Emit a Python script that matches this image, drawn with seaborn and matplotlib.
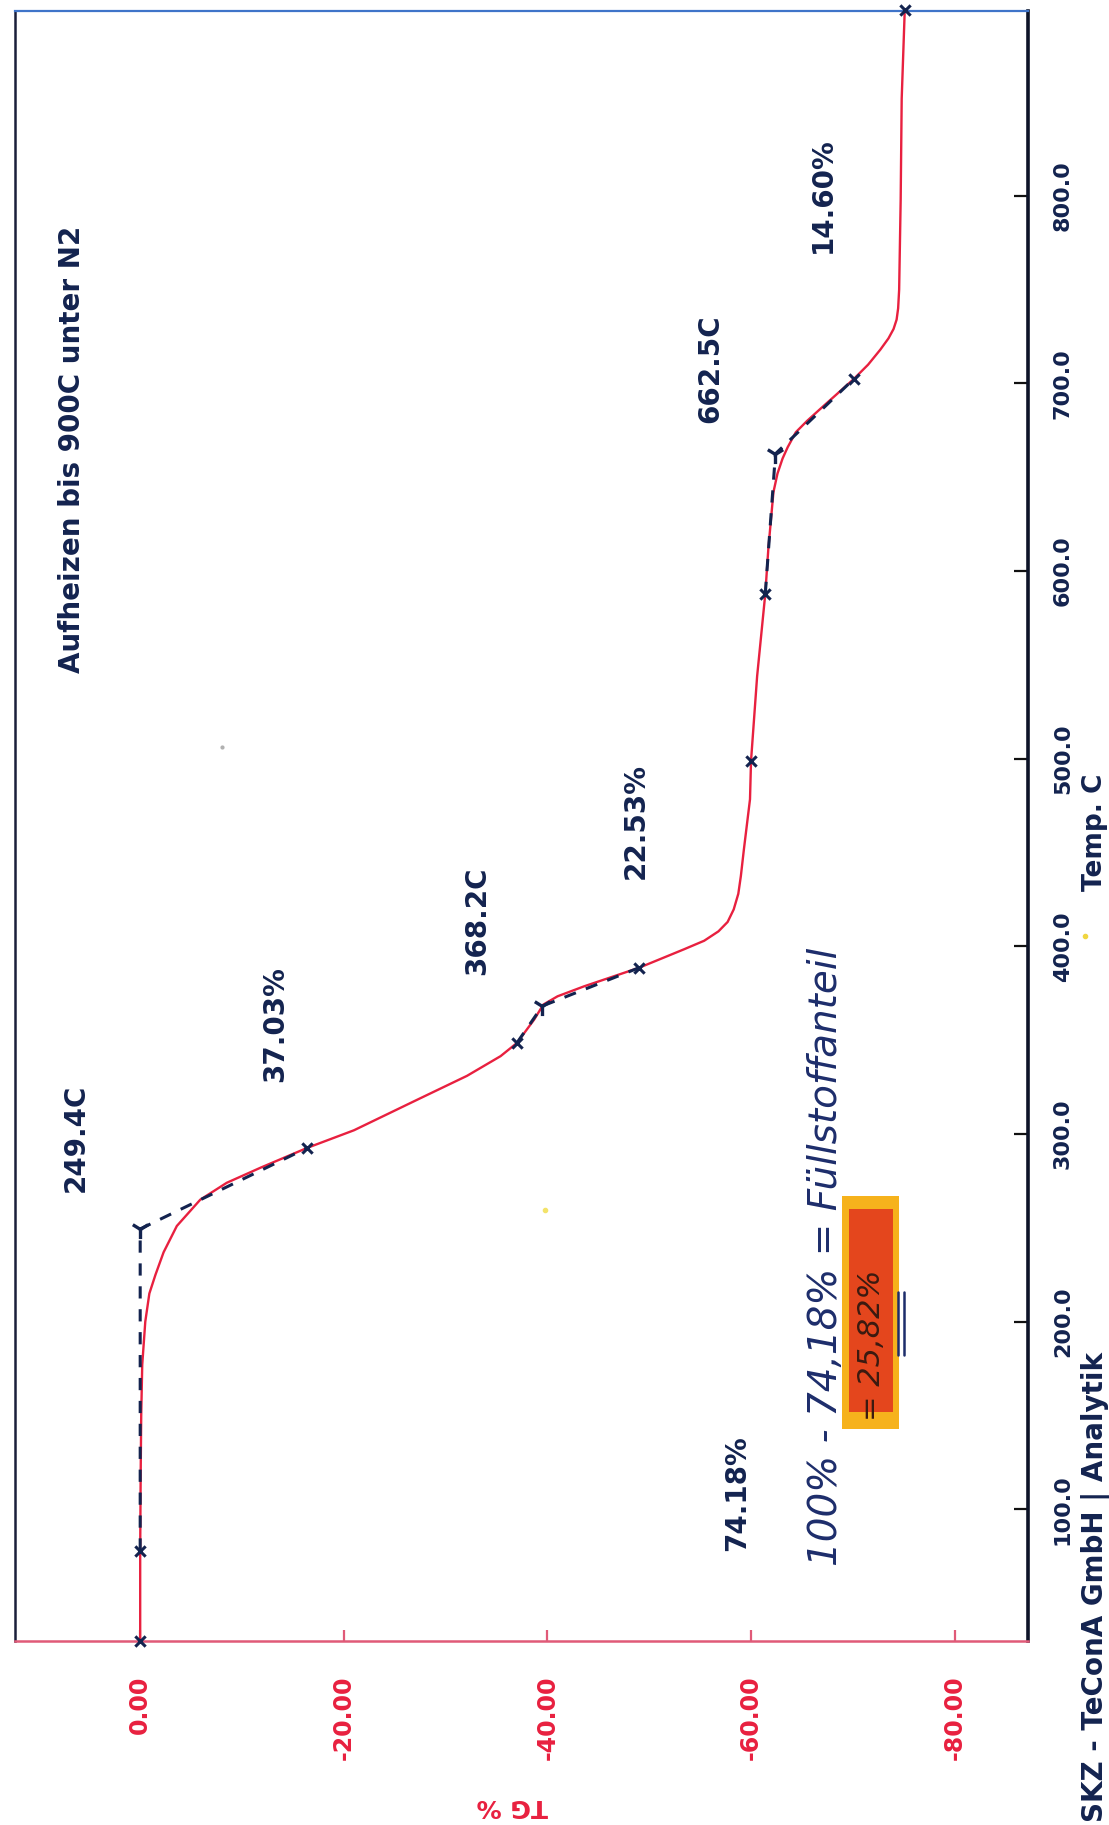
import matplotlib
matplotlib.use('Agg')
import matplotlib.pyplot as plt
import seaborn as sns
from matplotlib.patches import Rectangle
from matplotlib.lines import Line2D

# --- Data (temperature in C, mass change in %) ---
temp_c = [30, 78, 120, 150, 177, 200, 215, 225, 237, 251, 265, 274, 282, 292.6,
          302, 318.5, 331, 341.5, 348.5, 361, 369, 373.4, 378.7, 388.6, 398.4,
          403, 408, 413, 419.7, 428, 437.4, 451.7, 478.4, 498.8, 544, 587.8,
          611.8, 642, 652, 660, 666, 674, 680, 686.4, 702.4, 710, 718, 724, 729,
          734, 740, 750, 798, 851.7, 899]
tg_pct = [0, 0, -0.05, -0.1, -0.2, -0.5, -0.9, -1.5, -2.3, -3.6, -5.9, -8.5,
          -11.8, -16.4, -21.0, -27.3, -32.1, -35.4, -37.0, -38.7, -39.6, -41.0,
          -43.6, -49.0, -53.4, -55.4, -56.8, -57.7, -58.3, -58.75, -59.0, -59.3,
          -59.9, -60.0, -60.6, -61.4, -61.7, -62.2, -62.6, -63.1, -63.6, -64.4,
          -65.5, -66.8, -70.1, -71.5, -72.7, -73.5, -74.0, -74.3, -74.45, -74.55,
          -74.7, -74.8, -75.1]

# tangent constructions: start mark, onset, end mark
tan_temp = [[78, 249.4, 292.6], [348.5, 368.2, 388.6], [587.8, 662.5, 702.4]]
tan_tg = [[0.0, 0.0, -16.4], [-37.0, -39.5, -49.0], [-61.4, -62.4, -70.1]]

onset_temp = [249.4, 368.2, 662.5]
onset_tg = [0.0, -39.5, -62.4]

mark_temp = [30, 78, 292.6, 348.5, 388.6, 498.8, 587.8, 702.4, 899]
mark_tg = [0.0, 0.0, -16.4, -37.0, -49.0, -60.0, -61.4, -70.1, -75.1]

tg_ticks = [0, -20, -40, -60, -80]
tg_tick_labels = ['0.00', '-20.00', '-40.00', '-60.00', '-80.00']
temp_ticks = [100, 200, 300, 400, 500, 600, 700, 800]
temp_tick_labels = ['100.0', '200.0', '300.0', '400.0', '500.0', '600.0', '700.0', '800.0']

# printed step annotations (text, TG position, temperature position)
step_text = ['249.4C', '37.03%', '368.2C', '22.53%', '662.5C', '14.60%', '74.18%']
step_tg = [6.3, -13.3, -33.1, -48.7, -56.0, -67.1, -58.6]
step_temp = [298, 358.6, 413.4, 467, 708, 800.3, 108.7]

# --- Style ---
sns.set_style('white')
plt.rcParams['font.family'] = ['DejaVu Sans']
plt.rcParams['font.weight'] = 'bold'

navy = '#13234f'
red = '#e8203f'
axis_red = '#e05a78'
ink = '#1d2d6b'

fig = plt.figure(figsize=(11.09, 18.25), dpi=100)
ax = fig.add_axes([0.0135, 0.1008, 0.9134, 0.8932])

# main TG curve
sns.lineplot(x=tg_pct, y=temp_c, sort=False, estimator=None, color=red,
             linewidth=1.7, ax=ax, zorder=3)

# tangent lines
for tx, ty in zip(tan_tg, tan_temp):
    sns.lineplot(x=tx, y=ty, sort=False, estimator=None, color=navy,
                 linewidth=2.2, linestyle=(0, (4, 3.5)), ax=ax, zorder=4)

sns.scatterplot(x=mark_tg, y=mark_temp, marker='x', s=55, color=navy,
                linewidth=2.2, ax=ax, zorder=5, clip_on=False)
sns.scatterplot(x=onset_tg, y=onset_temp, marker='1', s=190, color=navy,
                linewidth=2.4, ax=ax, zorder=5)

ax.set_xlim(12.3, -87.2)
ax.set_ylim(29.8, 898.5)

ax.set_xticks(tg_ticks)
ax.set_xticklabels(tg_tick_labels)
ax.set_yticks(temp_ticks)
ax.set_yticklabels(temp_tick_labels)

ax.xaxis.set_ticks_position('bottom')
ax.yaxis.set_ticks_position('right')
ax.tick_params(axis='x', direction='in', length=8, width=1.6, color=axis_red,
               pad=25, labelcolor=red, labelsize=17, labelrotation=90)
ax.tick_params(axis='y', direction='in', length=10, width=1.6, color='#111',
               pad=18, labelcolor=navy, labelsize=16, labelrotation=90,
               left=False, labelleft=False, right=True, labelright=True)
for lbl in ax.get_yticklabels():
    lbl.set_va('center')

ax.spines['top'].set_color('#3f74c9')
ax.spines['top'].set_linewidth(1.6)
ax.spines['left'].set_color('#1a1f3a')
ax.spines['left'].set_linewidth(1.8)
ax.spines['right'].set_color('#0d1428')
ax.spines['right'].set_linewidth(2.6)
ax.spines['bottom'].set_color(axis_red)
ax.spines['bottom'].set_linewidth(1.8)

# axis titles
ax.set_xlabel('TG %', color=red, fontsize=18, fontweight='bold', rotation=180)
ax.xaxis.label.set_va('center')
ax.xaxis.set_label_coords(0.4906, -0.1012)
ax.set_ylabel('')
fig.text(0.9878, 0.544, 'Temp. C', rotation=90, ha='center', va='center',
         color=navy, fontsize=19, fontweight='bold')
fig.text(0.9875, 0.0016, 'SKZ - TeConA GmbH | Analytik', rotation=90,
         ha='center', va='bottom', color=navy, fontsize=20, fontweight='bold')

# printed annotations
ax.text(6.7, 665, 'Aufheizen bis 900C unter N2', rotation=90, ha='center',
        va='center', color=navy, fontsize=20, fontweight='bold')
for t, x, y in zip(step_text, step_tg, step_temp):
    ax.text(x, y, t, rotation=90, ha='center', va='center', color=navy,
            fontsize=20, fontweight='bold')

# handwritten note with highlighter
ax.add_patch(Rectangle((-68.9, 143), -5.6, 124, facecolor='#f6b21c',
                       edgecolor='none', zorder=1))
ax.add_patch(Rectangle((-69.6, 152), -4.3, 108, facecolor='#e4461d',
                       edgecolor='none', zorder=1))
ax.text(-67.4, 70, '100% - 74,18% = Füllstoffanteil', rotation=90,
        ha='center', va='bottom', color=ink, fontsize=28,
        fontweight='normal', fontstyle='italic', zorder=2)
ax.text(-71.8, 147, '= 25,82%', rotation=90, ha='center', va='bottom',
        color='#3a1a10', fontsize=22, fontweight='normal',
        fontstyle='italic', zorder=2)
ax.plot([-74.4, -74.4], [182, 216], color=ink, lw=1.8, zorder=2)
ax.plot([-75.0, -75.0], [182, 216], color=ink, lw=1.8, zorder=2)

# scanner specks
ax.plot([-39.8], [259.5], marker='o', ms=3, color='#f3e36a', zorder=1)
ax.plot([-8.0], [506], marker='o', ms=2, color='#b0b0b0', zorder=1)
fig.add_artist(Line2D([0.978], [0.487], marker='o', ms=3, color='#f0d640'))

fig.savefig('out.png', dpi=100)
